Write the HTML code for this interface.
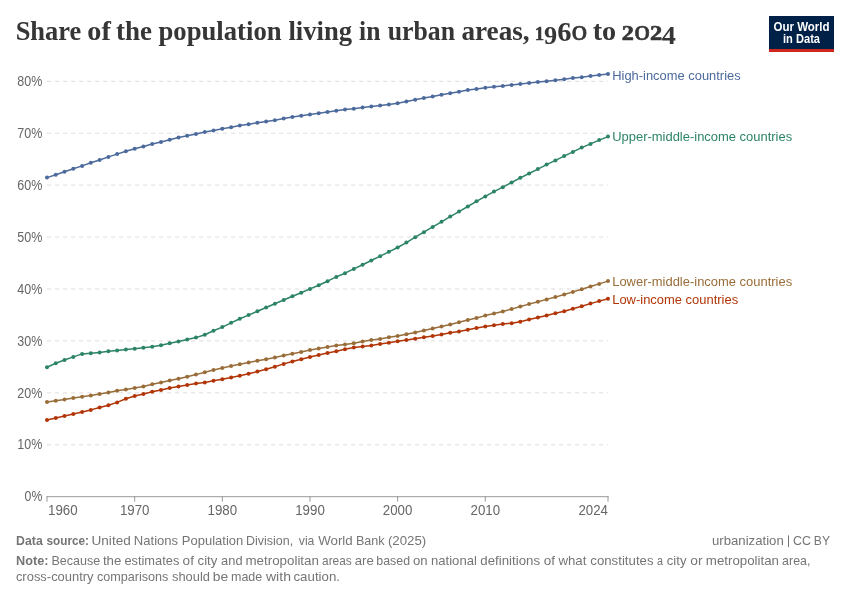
<!DOCTYPE html>
<html><head><meta charset="utf-8"><title>Share of the population living in urban areas</title>
<style>
html,body{margin:0;padding:0;background:#fff;}
body{width:850px;height:600px;overflow:hidden;font-family:"Liberation Sans",sans-serif;}
svg{display:block;will-change:transform;}
text{font-family:"Liberation Sans",sans-serif;}
.title text{font-family:"Liberation Serif",serif;font-weight:bold;}
.ax{font-size:14px;fill:#666666;}
.lab{font-size:13.6px;}
.ft{font-size:13px;fill:#757575;}
.b{font-weight:bold;}
.logo{font-weight:bold;font-size:12px;fill:#fff;letter-spacing:0px;}
</style></head><body>
<svg width="850" height="600" viewBox="0 0 850 600">
<rect x="0" y="0" width="850" height="600" fill="#fff"/>
<g class="title" fill="#363636">
<text transform="translate(15.64,40.4) scale(0.9732,1)" font-size="27.2">Share</text>
<text transform="translate(87.36,40.4) scale(1.0364,1)" font-size="27.2">of</text>
<text transform="translate(115.90,40.4) scale(0.9943,1)" font-size="27.2">the</text>
<text transform="translate(158.45,40.4) scale(0.9820,1)" font-size="27.2">population</text>
<text transform="translate(288.41,40.4) scale(0.9790,1)" font-size="27.2">living</text>
<text transform="translate(359.03,40.4) scale(0.9425,1)" font-size="27.2">in</text>
<text transform="translate(387.73,40.4) scale(0.9480,1)" font-size="27.2">urban</text>
<text transform="translate(461.40,40.4) scale(1.0008,1)" font-size="27.2">areas,</text>
<text transform="translate(592.68,40.4) scale(1.0381,1)" font-size="27.2">to</text>
<text transform="translate(534.69,40.30) scale(0.1862,0.1971)" font-size="100" style="font-weight:bold" stroke="#363636" stroke-width="3.0" stroke-linejoin="round">1</text>
<text transform="translate(543.98,43.65) scale(0.2629,0.2513)" font-size="100" style="font-weight:bold">9</text>
<text transform="translate(557.20,40.62) scale(0.2851,0.2810)" font-size="100" style="font-weight:bold">6</text>
<text transform="translate(571.53,40.43) scale(0.3169,0.2860)" font-size="100" style="font-weight:normal" stroke="#363636" stroke-width="2.0" stroke-linejoin="round">o</text>
<text transform="translate(621.73,40.30) scale(0.2427,0.2007)" font-size="100" style="font-weight:bold" stroke="#363636" stroke-width="3.0" stroke-linejoin="round">2</text>
<text transform="translate(634.13,40.43) scale(0.3169,0.2860)" font-size="100" style="font-weight:normal" stroke="#363636" stroke-width="2.0" stroke-linejoin="round">o</text>
<text transform="translate(649.93,40.30) scale(0.2449,0.2007)" font-size="100" style="font-weight:bold" stroke="#363636" stroke-width="3.0" stroke-linejoin="round">2</text>
<text transform="translate(661.75,43.90) scale(0.2830,0.2570)" font-size="100" style="font-weight:bold">4</text>
</g>
<g>
<rect x="769" y="16" width="65" height="36" fill="#002147"/>
<rect x="769" y="49" width="65" height="3" fill="#ce261e"/>
<text x="801.5" y="30.8" text-anchor="middle" class="logo" textLength="56" lengthAdjust="spacingAndGlyphs">Our World</text>
<text x="801.5" y="43.1" text-anchor="middle" class="logo" textLength="37" lengthAdjust="spacingAndGlyphs">in Data</text>
</g>
<line x1="47" x2="608" y1="444.8" y2="444.8" stroke="#dddddd" stroke-width="1" stroke-dasharray="4,4"/>
<line x1="47" x2="608" y1="392.9" y2="392.9" stroke="#dddddd" stroke-width="1" stroke-dasharray="4,4"/>
<line x1="47" x2="608" y1="340.9" y2="340.9" stroke="#dddddd" stroke-width="1" stroke-dasharray="4,4"/>
<line x1="47" x2="608" y1="289.0" y2="289.0" stroke="#dddddd" stroke-width="1" stroke-dasharray="4,4"/>
<line x1="47" x2="608" y1="237.1" y2="237.1" stroke="#dddddd" stroke-width="1" stroke-dasharray="4,4"/>
<line x1="47" x2="608" y1="185.1" y2="185.1" stroke="#dddddd" stroke-width="1" stroke-dasharray="4,4"/>
<line x1="47" x2="608" y1="133.2" y2="133.2" stroke="#dddddd" stroke-width="1" stroke-dasharray="4,4"/>
<line x1="47" x2="608" y1="81.3" y2="81.3" stroke="#dddddd" stroke-width="1" stroke-dasharray="4,4"/>

<line x1="46.5" x2="608.5" y1="496.7" y2="496.7" stroke="#999999" stroke-width="1"/>
<line x1="47.0" x2="47.0" y1="496.2" y2="501.7" stroke="#999999" stroke-width="1"/>
<line x1="134.65625" x2="134.65625" y1="496.2" y2="501.7" stroke="#999999" stroke-width="1"/>
<line x1="222.3125" x2="222.3125" y1="496.2" y2="501.7" stroke="#999999" stroke-width="1"/>
<line x1="309.96875" x2="309.96875" y1="496.2" y2="501.7" stroke="#999999" stroke-width="1"/>
<line x1="397.625" x2="397.625" y1="496.2" y2="501.7" stroke="#999999" stroke-width="1"/>
<line x1="485.28125" x2="485.28125" y1="496.2" y2="501.7" stroke="#999999" stroke-width="1"/>
<line x1="608.0" x2="608.0" y1="496.2" y2="501.7" stroke="#999999" stroke-width="1"/>

<text x="42.3" y="501.3" text-anchor="end" class="ax" textLength="17.7" lengthAdjust="spacingAndGlyphs">0%</text>
<text x="42.3" y="449.4" text-anchor="end" class="ax" textLength="25" lengthAdjust="spacingAndGlyphs">10%</text>
<text x="42.3" y="397.5" text-anchor="end" class="ax" textLength="25" lengthAdjust="spacingAndGlyphs">20%</text>
<text x="42.3" y="345.5" text-anchor="end" class="ax" textLength="25" lengthAdjust="spacingAndGlyphs">30%</text>
<text x="42.3" y="293.6" text-anchor="end" class="ax" textLength="25" lengthAdjust="spacingAndGlyphs">40%</text>
<text x="42.3" y="241.7" text-anchor="end" class="ax" textLength="25" lengthAdjust="spacingAndGlyphs">50%</text>
<text x="42.3" y="189.7" text-anchor="end" class="ax" textLength="25" lengthAdjust="spacingAndGlyphs">60%</text>
<text x="42.3" y="137.8" text-anchor="end" class="ax" textLength="25" lengthAdjust="spacingAndGlyphs">70%</text>
<text x="42.3" y="85.9" text-anchor="end" class="ax" textLength="25" lengthAdjust="spacingAndGlyphs">80%</text>

<text x="48.0" y="515.2" text-anchor="start" class="ax" textLength="29.6" lengthAdjust="spacingAndGlyphs">1960</text>
<text x="134.7" y="515.2" text-anchor="middle" class="ax" textLength="29.6" lengthAdjust="spacingAndGlyphs">1970</text>
<text x="222.3" y="515.2" text-anchor="middle" class="ax" textLength="29.6" lengthAdjust="spacingAndGlyphs">1980</text>
<text x="310.0" y="515.2" text-anchor="middle" class="ax" textLength="29.6" lengthAdjust="spacingAndGlyphs">1990</text>
<text x="397.6" y="515.2" text-anchor="middle" class="ax" textLength="29.6" lengthAdjust="spacingAndGlyphs">2000</text>
<text x="485.3" y="515.2" text-anchor="middle" class="ax" textLength="29.6" lengthAdjust="spacingAndGlyphs">2010</text>
<text x="608.0" y="515.2" text-anchor="end" class="ax" textLength="29.6" lengthAdjust="spacingAndGlyphs">2024</text>

<polyline points="47.0,420.0 55.8,417.9 64.5,416.0 73.3,413.9 82.1,412.0 90.8,409.9 99.6,407.5 108.4,405.2 117.1,402.4 125.9,398.8 134.7,396.0 143.4,393.9 152.2,391.8 161.0,389.9 169.7,388.0 178.5,386.4 187.2,384.9 196.0,383.5 204.8,382.4 213.5,380.7 222.3,379.3 231.1,377.4 239.8,375.7 248.6,373.8 257.4,371.6 266.1,369.3 274.9,366.7 283.7,363.9 292.4,361.5 301.2,359.2 310.0,357.1 318.7,354.9 327.5,353.1 336.3,351.2 345.0,349.3 353.8,347.6 362.6,346.5 371.3,345.5 380.1,344.1 388.9,342.7 397.6,341.3 406.4,339.9 415.2,338.7 423.9,337.3 432.7,335.9 441.5,334.5 450.2,332.8 459.0,331.6 467.8,329.8 476.5,328.1 485.3,326.5 494.0,325.3 502.8,324.1 511.6,323.2 520.3,321.8 529.1,319.6 537.9,317.5 546.6,315.4 555.4,313.3 564.2,311.2 572.9,308.8 581.7,306.2 590.5,303.6 599.2,301.1 608.0,298.7" fill="none" stroke="#b13507" stroke-width="1.5" stroke-linejoin="round" stroke-linecap="round"/>
<g fill="#b13507"><circle cx="47.0" cy="420.0" r="2"/><circle cx="55.8" cy="417.9" r="2"/><circle cx="64.5" cy="416.0" r="2"/><circle cx="73.3" cy="413.9" r="2"/><circle cx="82.1" cy="412.0" r="2"/><circle cx="90.8" cy="409.9" r="2"/><circle cx="99.6" cy="407.5" r="2"/><circle cx="108.4" cy="405.2" r="2"/><circle cx="117.1" cy="402.4" r="2"/><circle cx="125.9" cy="398.8" r="2"/><circle cx="134.7" cy="396.0" r="2"/><circle cx="143.4" cy="393.9" r="2"/><circle cx="152.2" cy="391.8" r="2"/><circle cx="161.0" cy="389.9" r="2"/><circle cx="169.7" cy="388.0" r="2"/><circle cx="178.5" cy="386.4" r="2"/><circle cx="187.2" cy="384.9" r="2"/><circle cx="196.0" cy="383.5" r="2"/><circle cx="204.8" cy="382.4" r="2"/><circle cx="213.5" cy="380.7" r="2"/><circle cx="222.3" cy="379.3" r="2"/><circle cx="231.1" cy="377.4" r="2"/><circle cx="239.8" cy="375.7" r="2"/><circle cx="248.6" cy="373.8" r="2"/><circle cx="257.4" cy="371.6" r="2"/><circle cx="266.1" cy="369.3" r="2"/><circle cx="274.9" cy="366.7" r="2"/><circle cx="283.7" cy="363.9" r="2"/><circle cx="292.4" cy="361.5" r="2"/><circle cx="301.2" cy="359.2" r="2"/><circle cx="310.0" cy="357.1" r="2"/><circle cx="318.7" cy="354.9" r="2"/><circle cx="327.5" cy="353.1" r="2"/><circle cx="336.3" cy="351.2" r="2"/><circle cx="345.0" cy="349.3" r="2"/><circle cx="353.8" cy="347.6" r="2"/><circle cx="362.6" cy="346.5" r="2"/><circle cx="371.3" cy="345.5" r="2"/><circle cx="380.1" cy="344.1" r="2"/><circle cx="388.9" cy="342.7" r="2"/><circle cx="397.6" cy="341.3" r="2"/><circle cx="406.4" cy="339.9" r="2"/><circle cx="415.2" cy="338.7" r="2"/><circle cx="423.9" cy="337.3" r="2"/><circle cx="432.7" cy="335.9" r="2"/><circle cx="441.5" cy="334.5" r="2"/><circle cx="450.2" cy="332.8" r="2"/><circle cx="459.0" cy="331.6" r="2"/><circle cx="467.8" cy="329.8" r="2"/><circle cx="476.5" cy="328.1" r="2"/><circle cx="485.3" cy="326.5" r="2"/><circle cx="494.0" cy="325.3" r="2"/><circle cx="502.8" cy="324.1" r="2"/><circle cx="511.6" cy="323.2" r="2"/><circle cx="520.3" cy="321.8" r="2"/><circle cx="529.1" cy="319.6" r="2"/><circle cx="537.9" cy="317.5" r="2"/><circle cx="546.6" cy="315.4" r="2"/><circle cx="555.4" cy="313.3" r="2"/><circle cx="564.2" cy="311.2" r="2"/><circle cx="572.9" cy="308.8" r="2"/><circle cx="581.7" cy="306.2" r="2"/><circle cx="590.5" cy="303.6" r="2"/><circle cx="599.2" cy="301.1" r="2"/><circle cx="608.0" cy="298.7" r="2"/></g>

<polyline points="47.0,401.9 55.8,400.7 64.5,399.5 73.3,398.1 82.1,396.7 90.8,395.5 99.6,393.9 108.4,392.5 117.1,390.8 125.9,389.4 134.7,388.0 143.4,386.4 152.2,384.2 161.0,382.4 169.7,380.5 178.5,378.8 187.2,376.7 196.0,374.6 204.8,372.2 213.5,370.1 222.3,368.0 231.1,366.0 239.8,364.3 248.6,362.5 257.4,360.8 266.1,359.2 274.9,357.5 283.7,355.6 292.4,353.8 301.2,352.1 310.0,350.0 318.7,348.4 327.5,346.9 336.3,345.5 345.0,344.4 353.8,343.2 362.6,341.5 371.3,340.1 380.1,338.9 388.9,337.3 397.6,335.9 406.4,334.2 415.2,332.4 423.9,330.5 432.7,328.4 441.5,326.5 450.2,324.4 459.0,322.2 467.8,320.1 476.5,318.0 485.3,315.6 494.0,313.5 502.8,311.4 511.6,309.1 520.3,306.5 529.1,304.1 537.9,301.8 546.6,299.4 555.4,297.1 564.2,294.5 572.9,291.9 581.7,289.3 590.5,286.5 599.2,283.9 608.0,281.1" fill="none" stroke="#996d39" stroke-width="1.5" stroke-linejoin="round" stroke-linecap="round"/>
<g fill="#996d39"><circle cx="47.0" cy="401.9" r="2"/><circle cx="55.8" cy="400.7" r="2"/><circle cx="64.5" cy="399.5" r="2"/><circle cx="73.3" cy="398.1" r="2"/><circle cx="82.1" cy="396.7" r="2"/><circle cx="90.8" cy="395.5" r="2"/><circle cx="99.6" cy="393.9" r="2"/><circle cx="108.4" cy="392.5" r="2"/><circle cx="117.1" cy="390.8" r="2"/><circle cx="125.9" cy="389.4" r="2"/><circle cx="134.7" cy="388.0" r="2"/><circle cx="143.4" cy="386.4" r="2"/><circle cx="152.2" cy="384.2" r="2"/><circle cx="161.0" cy="382.4" r="2"/><circle cx="169.7" cy="380.5" r="2"/><circle cx="178.5" cy="378.8" r="2"/><circle cx="187.2" cy="376.7" r="2"/><circle cx="196.0" cy="374.6" r="2"/><circle cx="204.8" cy="372.2" r="2"/><circle cx="213.5" cy="370.1" r="2"/><circle cx="222.3" cy="368.0" r="2"/><circle cx="231.1" cy="366.0" r="2"/><circle cx="239.8" cy="364.3" r="2"/><circle cx="248.6" cy="362.5" r="2"/><circle cx="257.4" cy="360.8" r="2"/><circle cx="266.1" cy="359.2" r="2"/><circle cx="274.9" cy="357.5" r="2"/><circle cx="283.7" cy="355.6" r="2"/><circle cx="292.4" cy="353.8" r="2"/><circle cx="301.2" cy="352.1" r="2"/><circle cx="310.0" cy="350.0" r="2"/><circle cx="318.7" cy="348.4" r="2"/><circle cx="327.5" cy="346.9" r="2"/><circle cx="336.3" cy="345.5" r="2"/><circle cx="345.0" cy="344.4" r="2"/><circle cx="353.8" cy="343.2" r="2"/><circle cx="362.6" cy="341.5" r="2"/><circle cx="371.3" cy="340.1" r="2"/><circle cx="380.1" cy="338.9" r="2"/><circle cx="388.9" cy="337.3" r="2"/><circle cx="397.6" cy="335.9" r="2"/><circle cx="406.4" cy="334.2" r="2"/><circle cx="415.2" cy="332.4" r="2"/><circle cx="423.9" cy="330.5" r="2"/><circle cx="432.7" cy="328.4" r="2"/><circle cx="441.5" cy="326.5" r="2"/><circle cx="450.2" cy="324.4" r="2"/><circle cx="459.0" cy="322.2" r="2"/><circle cx="467.8" cy="320.1" r="2"/><circle cx="476.5" cy="318.0" r="2"/><circle cx="485.3" cy="315.6" r="2"/><circle cx="494.0" cy="313.5" r="2"/><circle cx="502.8" cy="311.4" r="2"/><circle cx="511.6" cy="309.1" r="2"/><circle cx="520.3" cy="306.5" r="2"/><circle cx="529.1" cy="304.1" r="2"/><circle cx="537.9" cy="301.8" r="2"/><circle cx="546.6" cy="299.4" r="2"/><circle cx="555.4" cy="297.1" r="2"/><circle cx="564.2" cy="294.5" r="2"/><circle cx="572.9" cy="291.9" r="2"/><circle cx="581.7" cy="289.3" r="2"/><circle cx="590.5" cy="286.5" r="2"/><circle cx="599.2" cy="283.9" r="2"/><circle cx="608.0" cy="281.1" r="2"/></g>

<polyline points="47.0,367.3 55.8,363.3 64.5,360.0 73.3,356.9 82.1,353.9 90.8,353.2 99.6,352.5 108.4,351.3 117.1,350.4 125.9,349.4 134.7,348.7 143.4,347.8 152.2,346.8 161.0,345.2 169.7,343.3 178.5,341.4 187.2,339.5 196.0,337.6 204.8,334.8 213.5,330.8 222.3,327.1 231.1,322.8 239.8,318.7 248.6,315.1 257.4,311.3 266.1,307.5 274.9,303.8 283.7,300.0 292.4,296.2 301.2,292.7 310.0,288.9 318.7,285.2 327.5,281.2 336.3,276.9 345.0,273.2 353.8,268.9 362.6,264.7 371.3,260.5 380.1,256.2 388.9,251.8 397.6,247.5 406.4,242.6 415.2,237.2 423.9,232.2 432.7,226.9 441.5,221.8 450.2,216.6 459.0,211.6 467.8,206.5 476.5,201.3 485.3,196.4 494.0,191.6 502.8,187.2 511.6,182.5 520.3,177.8 529.1,173.5 537.9,169.1 546.6,164.6 555.4,160.4 564.2,156.1 572.9,151.9 581.7,147.6 590.5,143.9 599.2,140.1 608.0,136.6" fill="none" stroke="#2c8465" stroke-width="1.5" stroke-linejoin="round" stroke-linecap="round"/>
<g fill="#2c8465"><circle cx="47.0" cy="367.3" r="2"/><circle cx="55.8" cy="363.3" r="2"/><circle cx="64.5" cy="360.0" r="2"/><circle cx="73.3" cy="356.9" r="2"/><circle cx="82.1" cy="353.9" r="2"/><circle cx="90.8" cy="353.2" r="2"/><circle cx="99.6" cy="352.5" r="2"/><circle cx="108.4" cy="351.3" r="2"/><circle cx="117.1" cy="350.4" r="2"/><circle cx="125.9" cy="349.4" r="2"/><circle cx="134.7" cy="348.7" r="2"/><circle cx="143.4" cy="347.8" r="2"/><circle cx="152.2" cy="346.8" r="2"/><circle cx="161.0" cy="345.2" r="2"/><circle cx="169.7" cy="343.3" r="2"/><circle cx="178.5" cy="341.4" r="2"/><circle cx="187.2" cy="339.5" r="2"/><circle cx="196.0" cy="337.6" r="2"/><circle cx="204.8" cy="334.8" r="2"/><circle cx="213.5" cy="330.8" r="2"/><circle cx="222.3" cy="327.1" r="2"/><circle cx="231.1" cy="322.8" r="2"/><circle cx="239.8" cy="318.7" r="2"/><circle cx="248.6" cy="315.1" r="2"/><circle cx="257.4" cy="311.3" r="2"/><circle cx="266.1" cy="307.5" r="2"/><circle cx="274.9" cy="303.8" r="2"/><circle cx="283.7" cy="300.0" r="2"/><circle cx="292.4" cy="296.2" r="2"/><circle cx="301.2" cy="292.7" r="2"/><circle cx="310.0" cy="288.9" r="2"/><circle cx="318.7" cy="285.2" r="2"/><circle cx="327.5" cy="281.2" r="2"/><circle cx="336.3" cy="276.9" r="2"/><circle cx="345.0" cy="273.2" r="2"/><circle cx="353.8" cy="268.9" r="2"/><circle cx="362.6" cy="264.7" r="2"/><circle cx="371.3" cy="260.5" r="2"/><circle cx="380.1" cy="256.2" r="2"/><circle cx="388.9" cy="251.8" r="2"/><circle cx="397.6" cy="247.5" r="2"/><circle cx="406.4" cy="242.6" r="2"/><circle cx="415.2" cy="237.2" r="2"/><circle cx="423.9" cy="232.2" r="2"/><circle cx="432.7" cy="226.9" r="2"/><circle cx="441.5" cy="221.8" r="2"/><circle cx="450.2" cy="216.6" r="2"/><circle cx="459.0" cy="211.6" r="2"/><circle cx="467.8" cy="206.5" r="2"/><circle cx="476.5" cy="201.3" r="2"/><circle cx="485.3" cy="196.4" r="2"/><circle cx="494.0" cy="191.6" r="2"/><circle cx="502.8" cy="187.2" r="2"/><circle cx="511.6" cy="182.5" r="2"/><circle cx="520.3" cy="177.8" r="2"/><circle cx="529.1" cy="173.5" r="2"/><circle cx="537.9" cy="169.1" r="2"/><circle cx="546.6" cy="164.6" r="2"/><circle cx="555.4" cy="160.4" r="2"/><circle cx="564.2" cy="156.1" r="2"/><circle cx="572.9" cy="151.9" r="2"/><circle cx="581.7" cy="147.6" r="2"/><circle cx="590.5" cy="143.9" r="2"/><circle cx="599.2" cy="140.1" r="2"/><circle cx="608.0" cy="136.6" r="2"/></g>

<polyline points="47.0,177.6 55.8,174.8 64.5,171.8 73.3,168.7 82.1,165.9 90.8,162.8 99.6,160.0 108.4,156.9 117.1,154.1 125.9,151.3 134.7,148.7 143.4,146.4 152.2,144.0 161.0,141.9 169.7,139.8 178.5,137.6 187.2,135.8 196.0,133.9 204.8,132.0 213.5,130.4 222.3,128.7 231.1,127.2 239.8,125.6 248.6,124.2 257.4,122.8 266.1,121.6 274.9,120.2 283.7,118.6 292.4,116.9 301.2,115.8 310.0,114.6 318.7,113.2 327.5,112.0 336.3,110.8 345.0,109.6 353.8,108.7 362.6,107.5 371.3,106.6 380.1,105.6 388.9,104.5 397.6,103.3 406.4,101.6 415.2,99.8 423.9,98.0 432.7,96.5 441.5,94.8 450.2,93.2 459.0,91.8 467.8,90.1 476.5,88.9 485.3,87.8 494.0,86.8 502.8,85.9 511.6,84.9 520.3,84.0 529.1,83.1 537.9,82.1 546.6,81.2 555.4,80.2 564.2,79.3 572.9,78.1 581.7,77.2 590.5,76.0 599.2,75.1 608.0,73.9" fill="none" stroke="#4c6a9c" stroke-width="1.5" stroke-linejoin="round" stroke-linecap="round"/>
<g fill="#4c6a9c"><circle cx="47.0" cy="177.6" r="2"/><circle cx="55.8" cy="174.8" r="2"/><circle cx="64.5" cy="171.8" r="2"/><circle cx="73.3" cy="168.7" r="2"/><circle cx="82.1" cy="165.9" r="2"/><circle cx="90.8" cy="162.8" r="2"/><circle cx="99.6" cy="160.0" r="2"/><circle cx="108.4" cy="156.9" r="2"/><circle cx="117.1" cy="154.1" r="2"/><circle cx="125.9" cy="151.3" r="2"/><circle cx="134.7" cy="148.7" r="2"/><circle cx="143.4" cy="146.4" r="2"/><circle cx="152.2" cy="144.0" r="2"/><circle cx="161.0" cy="141.9" r="2"/><circle cx="169.7" cy="139.8" r="2"/><circle cx="178.5" cy="137.6" r="2"/><circle cx="187.2" cy="135.8" r="2"/><circle cx="196.0" cy="133.9" r="2"/><circle cx="204.8" cy="132.0" r="2"/><circle cx="213.5" cy="130.4" r="2"/><circle cx="222.3" cy="128.7" r="2"/><circle cx="231.1" cy="127.2" r="2"/><circle cx="239.8" cy="125.6" r="2"/><circle cx="248.6" cy="124.2" r="2"/><circle cx="257.4" cy="122.8" r="2"/><circle cx="266.1" cy="121.6" r="2"/><circle cx="274.9" cy="120.2" r="2"/><circle cx="283.7" cy="118.6" r="2"/><circle cx="292.4" cy="116.9" r="2"/><circle cx="301.2" cy="115.8" r="2"/><circle cx="310.0" cy="114.6" r="2"/><circle cx="318.7" cy="113.2" r="2"/><circle cx="327.5" cy="112.0" r="2"/><circle cx="336.3" cy="110.8" r="2"/><circle cx="345.0" cy="109.6" r="2"/><circle cx="353.8" cy="108.7" r="2"/><circle cx="362.6" cy="107.5" r="2"/><circle cx="371.3" cy="106.6" r="2"/><circle cx="380.1" cy="105.6" r="2"/><circle cx="388.9" cy="104.5" r="2"/><circle cx="397.6" cy="103.3" r="2"/><circle cx="406.4" cy="101.6" r="2"/><circle cx="415.2" cy="99.8" r="2"/><circle cx="423.9" cy="98.0" r="2"/><circle cx="432.7" cy="96.5" r="2"/><circle cx="441.5" cy="94.8" r="2"/><circle cx="450.2" cy="93.2" r="2"/><circle cx="459.0" cy="91.8" r="2"/><circle cx="467.8" cy="90.1" r="2"/><circle cx="476.5" cy="88.9" r="2"/><circle cx="485.3" cy="87.8" r="2"/><circle cx="494.0" cy="86.8" r="2"/><circle cx="502.8" cy="85.9" r="2"/><circle cx="511.6" cy="84.9" r="2"/><circle cx="520.3" cy="84.0" r="2"/><circle cx="529.1" cy="83.1" r="2"/><circle cx="537.9" cy="82.1" r="2"/><circle cx="546.6" cy="81.2" r="2"/><circle cx="555.4" cy="80.2" r="2"/><circle cx="564.2" cy="79.3" r="2"/><circle cx="572.9" cy="78.1" r="2"/><circle cx="581.7" cy="77.2" r="2"/><circle cx="590.5" cy="76.0" r="2"/><circle cx="599.2" cy="75.1" r="2"/><circle cx="608.0" cy="73.9" r="2"/></g>

<text x="612.2" y="80.3" class="lab" fill="#4c6a9c" textLength="128.5" lengthAdjust="spacingAndGlyphs">High-income countries</text>
<text x="612.2" y="141.2" class="lab" fill="#2c8465" textLength="180" lengthAdjust="spacingAndGlyphs">Upper-middle-income countries</text>
<text x="612.2" y="286.2" class="lab" fill="#996d39" textLength="180" lengthAdjust="spacingAndGlyphs">Lower-middle-income countries</text>
<text x="612.2" y="303.5" class="lab" fill="#b13507" textLength="126" lengthAdjust="spacingAndGlyphs">Low-income countries</text>
<g fill="#757575">
<text transform="translate(16.09,545) scale(0.9455,1)" font-size="13" font-weight="bold">Data</text>
<text transform="translate(46.55,545) scale(0.9039,1)" font-size="13" font-weight="bold">source:</text>
<text transform="translate(91.56,545) scale(1.0434,1)" font-size="13">United</text>
<text transform="translate(133.79,545) scale(1.0071,1)" font-size="13">Nations</text>
<text transform="translate(181.80,545) scale(1.0017,1)" font-size="13">Population</text>
<text transform="translate(245.94,545) scale(0.9617,1)" font-size="13">Division,</text>
<text transform="translate(298.80,545) scale(0.9394,1)" font-size="13">via</text>
<text transform="translate(318.20,545) scale(1.0242,1)" font-size="13">World</text>
<text transform="translate(355.93,545) scale(0.9684,1)" font-size="13">Bank</text>
<text transform="translate(387.94,545) scale(1.0194,1)" font-size="13">(2025)</text>
<text transform="translate(712.04,545) scale(1.0123,1)" font-size="13">urbanization</text>
<text transform="translate(792.98,545) scale(0.9600,1)" font-size="13">CC</text>
<text transform="translate(813.87,545) scale(0.9313,1)" font-size="13">BY</text>
<text transform="translate(16.07,565.3) scale(0.9792,1)" font-size="13" font-weight="bold">Note:</text>
<text transform="translate(51.43,565.3) scale(0.9653,1)" font-size="13">Because</text>
<text transform="translate(102.94,565.3) scale(1.0203,1)" font-size="13">the</text>
<text transform="translate(124.41,565.3) scale(0.9881,1)" font-size="13">estimates</text>
<text transform="translate(182.58,565.3) scale(1.0476,1)" font-size="13">of</text>
<text transform="translate(197.59,565.3) scale(1.0158,1)" font-size="13">city</text>
<text transform="translate(221.11,565.3) scale(0.9877,1)" font-size="13">and</text>
<text transform="translate(245.43,565.3) scale(1.0286,1)" font-size="13">metropolitan</text>
<text transform="translate(322.04,565.3) scale(0.9143,1)" font-size="13">areas</text>
<text transform="translate(354.69,565.3) scale(1.0141,1)" font-size="13">are</text>
<text transform="translate(376.28,565.3) scale(0.9541,1)" font-size="13">based</text>
<text transform="translate(412.89,565.3) scale(1.0113,1)" font-size="13">on</text>
<text transform="translate(431.04,565.3) scale(1.0068,1)" font-size="13">national</text>
<text transform="translate(480.29,565.3) scale(1.0243,1)" font-size="13">definitions</text>
<text transform="translate(543.78,565.3) scale(1.0381,1)" font-size="13">of</text>
<text transform="translate(558.40,565.3) scale(1.0218,1)" font-size="13">what</text>
<text transform="translate(590.29,565.3) scale(1.0188,1)" font-size="13">constitutes</text>
<text transform="translate(656.99,565.3) scale(0.8296,1)" font-size="13">a</text>
<text transform="translate(666.79,565.3) scale(1.0105,1)" font-size="13">city</text>
<text transform="translate(690.27,565.3) scale(1.0605,1)" font-size="13">or</text>
<text transform="translate(705.83,565.3) scale(1.0243,1)" font-size="13">metropolitan</text>
<text transform="translate(782.12,565.3) scale(0.9536,1)" font-size="13">area,</text>
<text transform="translate(15.90,581) scale(0.9961,1)" font-size="13">cross-country</text>
<text transform="translate(97.02,581) scale(0.9691,1)" font-size="13">comparisons</text>
<text transform="translate(172.00,581) scale(0.9919,1)" font-size="13">should</text>
<text transform="translate(212.70,581) scale(1.0642,1)" font-size="13">be</text>
<text transform="translate(230.98,581) scale(0.9632,1)" font-size="13">made</text>
<text transform="translate(266.00,581) scale(1.0787,1)" font-size="13">with</text>
<text transform="translate(293.49,581) scale(1.0217,1)" font-size="13">caution.</text>
<line x1="788.5" x2="788.5" y1="535.4" y2="547.1" stroke="#757575" stroke-width="1"/>
</g>
</svg>
</body></html>
